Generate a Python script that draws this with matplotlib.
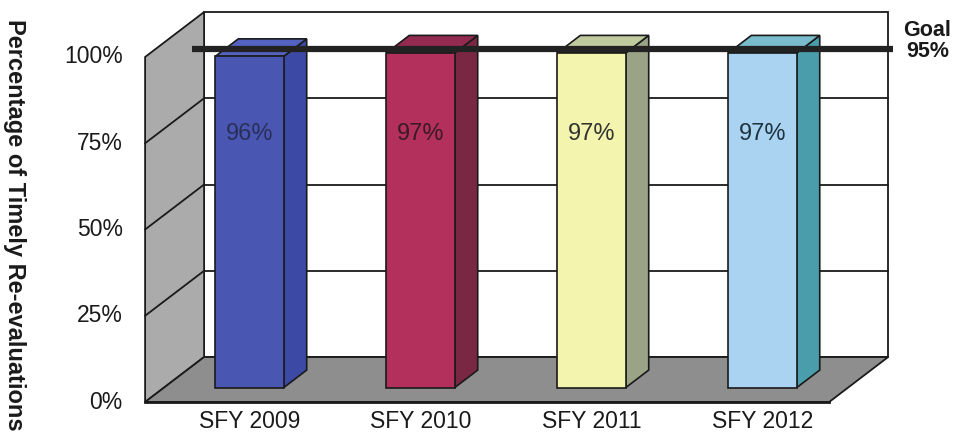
import matplotlib
matplotlib.use("Agg")
import matplotlib.pyplot as plt
from matplotlib.patches import Polygon

plt.rcParams['font.family'] = ['Liberation Sans', 'DejaVu Sans']

categories = ["SFY 2009", "SFY 2010", "SFY 2011", "SFY 2012"]
values = [96, 97, 97, 97]
value_labels = ["96%", "97%", "97%", "97%"]
front_colors = ["#4a57b2", "#b3305c", "#f3f5ae", "#a9d3f0"]
side_colors = ["#3c4aa6", "#7a2744", "#9aa386", "#4a9dab"]
top_colors = ["#5463c0", "#952a50", "#bfcb9e", "#79bccb"]
text_colors = ["#2a2f5a", "#3a1a25", "#333333", "#1f3340"]
yticks = [0, 25, 50, 75, 100]
ytick_labels = ["0%", "25%", "50%", "75%", "100%"]
goal = 95
goal_label = "Goal\n95%"
ylabel = "Percentage of Timely Re-evaluations"

# depth offsets (3-D look)
DX, DY = 0.345, 13.04
D0, D1 = 0.32, 0.71
HALF = 0.2


def P(x, y, d):
    return (x + d * DX, y + d * DY)


fig = plt.figure(figsize=(9.62, 4.38), dpi=100)
ax = fig.add_axes([0, 0, 1, 1])
ax.set_xlim(-1.3485, 4.2768)
ax.set_ylim(-10.43, 116.52)
ax.axis('off')

xl, xr = -0.5, len(categories) - 0.5
ymax = 100
ec = "#1a1a1a"

# back wall
ax.add_patch(Polygon([P(xl, 0, 1), P(xr, 0, 1), P(xr, ymax, 1), P(xl, ymax, 1)],
                     closed=True, fc="white", ec=ec, lw=1.3, zorder=1))
# side wall
ax.add_patch(Polygon([P(xl, 0, 0), P(xl, 0, 1), P(xl, ymax, 1), P(xl, ymax, 0)],
                     closed=True, fc="#ababab", ec=ec, lw=1.3, zorder=2))
# floor
ax.add_patch(Polygon([P(xl, 0, 0), P(xr, 0, 0), P(xr, 0, 1), P(xl, 0, 1)],
                     closed=True, fc="#8e8e8e", ec=ec, lw=1.3, zorder=2))
# gridlines
for v in yticks[1:-1]:
    a, b = P(xl, v, 1), P(xr, v, 1)
    ax.plot([a[0], b[0]], [a[1], b[1]], color=ec, lw=1.3, zorder=1.5)
    a, b = P(xl, v, 0), P(xl, v, 1)
    ax.plot([a[0], b[0]], [a[1], b[1]], color=ec, lw=1.3, zorder=2.5)
a, b = P(xl, 0, 0), P(xr, 0, 0)
ax.plot([a[0], b[0]], [a[1], b[1]], color=ec, lw=2, zorder=2.6)

# bars
for i, v in enumerate(values):
    x0, x1 = i - HALF, i + HALF
    ax.add_patch(Polygon([P(x1, 0, D0), P(x1, 0, D1), P(x1, v, D1), P(x1, v, D0)],
                         closed=True, fc=side_colors[i], ec=ec, lw=1.2, zorder=3))
    ax.add_patch(Polygon([P(x0, v, D0), P(x1, v, D0), P(x1, v, D1), P(x0, v, D1)],
                         closed=True, fc=top_colors[i], ec=ec, lw=1.2, zorder=3))
    ax.add_patch(Polygon([P(x0, 0, D0), P(x1, 0, D0), P(x1, v, D0), P(x0, v, D0)],
                         closed=True, fc=front_colors[i], ec=ec, lw=1.2, zorder=4))
    tx, ty = P(i, 73.5, D0)
    ax.text(tx, ty, value_labels[i], ha='center', va='center', fontsize=17,
            color=text_colors[i], zorder=5)
    ax.text(P(i, 0, 0)[0] + 0.11, -5.6, categories[i], ha='center', va='center',
            fontsize=16.5, color="#1a1a1a")

# goal line
gd = 0.56
a, b = P(-0.42, goal, gd), P(3.68, goal, gd)
ax.plot([a[0], b[0]], [a[1], b[1]], color="#222222", lw=4.5, zorder=6,
        solid_capstyle='butt')
ax.text(4.075, P(0, goal, gd)[1] + 2.3, goal_label, ha='center', va='center',
        fontsize=15.5, fontweight='bold', color="#1a1a1a", linespacing=1.0)

# y tick labels
for v, lab in zip(yticks, ytick_labels):
    ax.text(-0.63, v, lab, ha='right', va='center', fontsize=16.5,
            color="#1a1a1a")

ax.text(-1.265, 51.5, ylabel, rotation=270, ha='center', va='center',
        fontsize=17, fontweight='bold', color="#1a1a1a")

fig.savefig("out.png", dpi=100)
